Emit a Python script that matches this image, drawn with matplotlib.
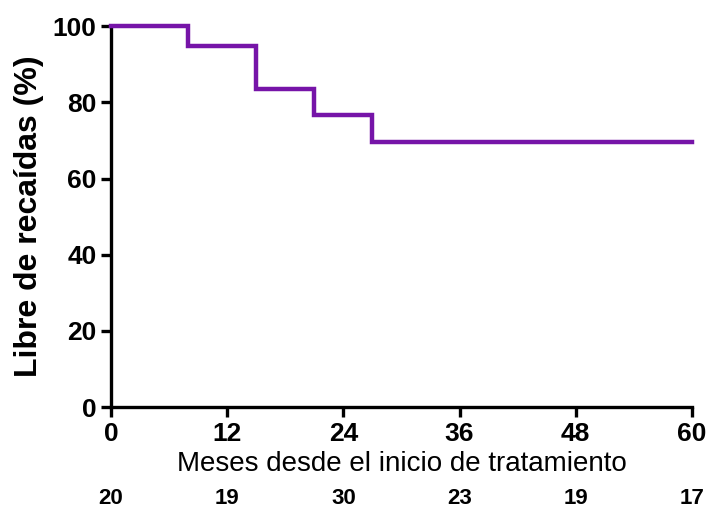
import matplotlib
matplotlib.use('Agg')
import matplotlib.pyplot as plt
from matplotlib import transforms

# Kaplan-Meier style curve
meses = [0, 8, 15, 21, 27, 60]
libre = [100, 94.8, 83.6, 76.6, 69.7, 69.7]

xticks = [0, 12, 24, 36, 48, 60]
en_riesgo = [20, 19, 30, 23, 19, 17]

plt.rcParams['font.family'] = ['Liberation Sans', 'DejaVu Sans']

fig = plt.figure(figsize=(7.1, 5.13), dpi=100)
ax = fig.add_axes([0.1563, 0.2066, 0.8183, 0.7424])

ax.step(meses, libre, where='post', color='#7614a8', linewidth=3.2,
        solid_joinstyle='miter', clip_on=False, zorder=3)

ax.set_xlim(0, 60)
ax.set_ylim(0, 100)
ax.set_xticks(xticks)
ax.set_yticks([0, 20, 40, 60, 80, 100])

for s in ['top', 'right']:
    ax.spines[s].set_visible(False)
for s in ['left', 'bottom']:
    ax.spines[s].set_linewidth(2.4)
ax.tick_params(width=2.4, length=7, labelsize=19, direction='out')
for lab in ax.get_xticklabels() + ax.get_yticklabels():
    lab.set_fontweight('bold')

ax.set_xlabel('Meses desde el inicio de tratamiento', fontsize=20, labelpad=4)
ax.set_ylabel('Libre de recaídas (%)', fontsize=23, fontweight='bold', labelpad=6)

trans = transforms.blended_transform_factory(ax.transData, ax.transAxes)
for x, n in zip(xticks, en_riesgo):
    ax.text(x, -0.24, str(n), transform=trans, ha='center', va='center',
            fontsize=16, fontweight='bold', clip_on=False)

fig.savefig('out.png', dpi=100)
